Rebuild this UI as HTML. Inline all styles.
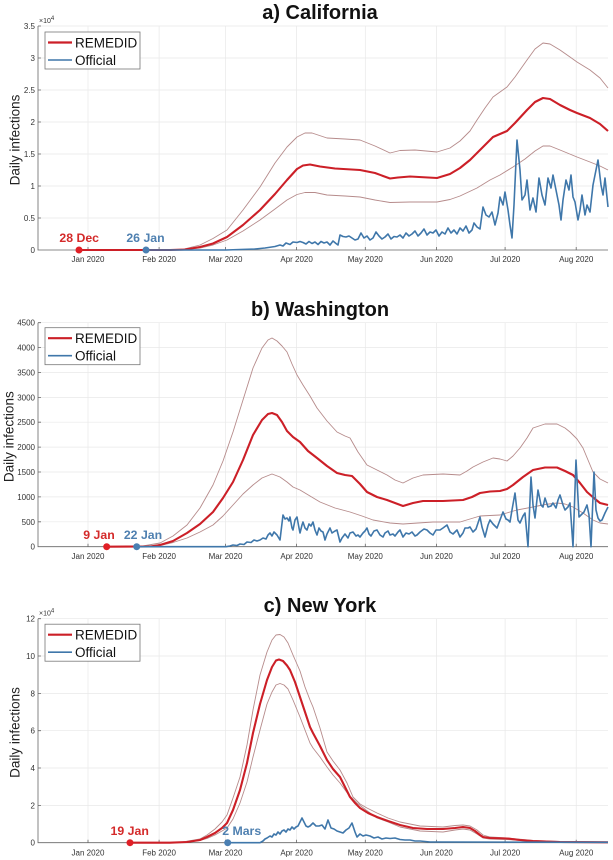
<!DOCTYPE html>
<html><head><meta charset="utf-8"><style>
html,body{margin:0;padding:0;background:#fff;}
svg{display:block;font-family:"Liberation Sans",Arial,sans-serif;}
.grid line{stroke:#e8e8e8;stroke-width:0.7}
.ax{stroke:#666;stroke-width:0.8;fill:none}
.tk{font-size:8px;fill:#333}
.band{fill:none;stroke:#b68b8b;stroke-width:0.9;stroke-linejoin:round}
.cen{fill:none;stroke:#cc1f27;stroke-width:2.1;stroke-linejoin:round}
.off{fill:none;stroke:#3f77aa;stroke-width:1.6;stroke-linejoin:round}
.title{font-size:20px;font-weight:bold;fill:#111}
.yl{font-size:13.5px;fill:#222}
.leg{font-size:13.5px;fill:#111}
.ann{font-size:12.3px;font-weight:bold}
</style></head><body>
<svg width="613" height="860" viewBox="0 0 613 860" xmlns="http://www.w3.org/2000/svg">

<!-- ================= Chart a ================= -->
<text class="title" x="320" y="19" text-anchor="middle">a) California</text>
<g class="grid">
<line x1="88" y1="26" x2="88" y2="250"/><line x1="159.1" y1="26" x2="159.1" y2="250"/><line x1="225.5" y1="26" x2="225.5" y2="250"/><line x1="296.6" y1="26" x2="296.6" y2="250"/><line x1="365.3" y1="26" x2="365.3" y2="250"/><line x1="436.4" y1="26" x2="436.4" y2="250"/><line x1="505.1" y1="26" x2="505.1" y2="250"/><line x1="576.2" y1="26" x2="576.2" y2="250"/>
<line x1="38" y1="26" x2="608" y2="26"/><line x1="38" y1="58" x2="608" y2="58"/><line x1="38" y1="90" x2="608" y2="90"/><line x1="38" y1="122" x2="608" y2="122"/><line x1="38" y1="154" x2="608" y2="154"/><line x1="38" y1="186" x2="608" y2="186"/><line x1="38" y1="218" x2="608" y2="218"/>
</g>
<path class="ax" d="M38 26V250H608"/>
<path class="ax" d="M88 250v-3M159.1 250v-3M225.5 250v-3M296.6 250v-3M365.3 250v-3M436.4 250v-3M505.1 250v-3M576.2 250v-3M38 26h3M38 58h3M38 90h3M38 122h3M38 154h3M38 186h3M38 218h3"/>
<g class="tk" text-anchor="end">
<text x="35" y="253">0</text><text x="35" y="221">0.5</text><text x="35" y="189">1</text><text x="35" y="157">1.5</text><text x="35" y="125">2</text><text x="35" y="93">2.5</text><text x="35" y="61">3</text><text x="35" y="29">3.5</text>
</g>
<text class="tk" x="39" y="23" style="font-size:7px">×10<tspan dy="-3" style="font-size:6px">4</tspan></text>
<g class="tk" text-anchor="middle">
<text x="88" y="262">Jan 2020</text><text x="159.1" y="262">Feb 2020</text><text x="225.5" y="262">Mar 2020</text><text x="296.6" y="262">Apr 2020</text><text x="365.3" y="262">May 2020</text><text x="436.4" y="262">Jun 2020</text><text x="505.1" y="262">Jul 2020</text><text x="576.2" y="262">Aug 2020</text>
</g>
<text class="yl" transform="translate(19.5,140) rotate(-90)" text-anchor="middle">Daily infections</text>

<polyline class="band" points="180,250 200,245 213,238.5 227,230 243,210 260,187 275,163 287,147 297,137 305,133 312,133 327,138 345,139 360,140 375,146 390,153 400,150.5 415,150 437,152 450,148 460,141 470,131 477,120 485,108 493,97 500,92 507,87 515,77 527,60 535,49 543,43 550,44 560,50 570,57 577,62 590,70 600,78 608,88"/>
<polyline class="band" points="180,250 200,248 213,245 227,240 243,231 260,220 275,209 287,200 297,194.5 305,192.5 315,192.5 327,195 345,196 360,197 375,200 390,202.5 410,202 437,202 450,199.5 460,196 477,188 490,180 500,175 513,167 525,159 535,151 543,146 550,146 560,150 577,157 590,162 600,166 608,170"/>
<polyline class="cen" points="79,250 170,250 185,249.5 200,247 213,243.5 227,237 243,225 260,210 275,194 287,180 297,169 303,165.5 310,164.5 320,166.5 335,168.5 360,170 375,173 390,178.5 398,177.5 410,176.5 437,178 450,174 460,168 470,160 477,153 485,145 493,137 500,134 507,131 515,123 527,110 535,102 543,98 550,99 560,105 570,110 577,113 590,118 600,124 608,131"/>
<polyline class="off" points="146,250 226,250 240,249.5 255,249 265,248 275,246.5 280,245 283,246 286,243 290,244.5 293,242 297,242.5 300,241.5 303,242.5 306,244 309,241.5 312,243.5 315,242 318,244.5 321,241.5 324,243 327,242 330,245 333,241 336,243.5 338,245 340,235 343,236.5 346,237 349,236 352,238 355,240 358,239 361,233 364,238 367,236 370,240 373,238 376,232 379,236 382,239 385,237 388,234 391,239 394,236.5 397,237 400,235 403,238 406,233 409,236 412,234 415,231 418,236 421,233 424,229 427,235 430,232 433,233 436,230 439,236 442,232 445,234 448,228 451,233 454,230 457,234 460,228 463,231 466,226 469,233 472,230 474,223 477,227 480,229 483,207 486,215 489,217 492,212 495,225 498,213 500,197 503,205 505,192 508,210 510,225 512,238 514,205 517,140 520,170 522,200 525,195 527,180 530,210 533,198 536,212 539,178 542,195 545,205 548,178 551,188 553,175 556,190 559,205 561,220 563,200 566,180 569,190 571,175 573,197 575,202 578,220 580,210 582,195 585,215 587,205 590,212 593,185 596,170 598,160 601,185 603,195 605,178 608,207"/>
<circle cx="79" cy="250" r="3.5" fill="#e01f26"/>
<circle cx="146" cy="250" r="3.5" fill="#4a7fb2"/>
<text class="ann" x="79.2" y="242" text-anchor="middle" fill="#d42a2a">28 Dec</text>
<text class="ann" x="145.5" y="242" text-anchor="middle" fill="#4f80b0">26 Jan</text>
<rect x="45" y="32" width="95" height="37" fill="#fff" stroke="#777" stroke-width="0.8"/>
<line x1="48" y1="42.5" x2="72" y2="42.5" stroke="#cc1f27" stroke-width="2.2"/>
<line x1="48" y1="60" x2="72" y2="60" stroke="#3f77aa" stroke-width="1.6"/>
<text class="leg" x="75" y="47.3">REMEDID</text>
<text class="leg" x="75" y="65">Official</text>

<!-- ================= Chart b ================= -->
<text class="title" x="320" y="316" text-anchor="middle">b) Washington</text>
<g class="grid">
<line x1="88" y1="322.7" x2="88" y2="546.7"/><line x1="159.1" y1="322.7" x2="159.1" y2="546.7"/><line x1="225.5" y1="322.7" x2="225.5" y2="546.7"/><line x1="296.6" y1="322.7" x2="296.6" y2="546.7"/><line x1="365.3" y1="322.7" x2="365.3" y2="546.7"/><line x1="436.4" y1="322.7" x2="436.4" y2="546.7"/><line x1="505.1" y1="322.7" x2="505.1" y2="546.7"/><line x1="576.2" y1="322.7" x2="576.2" y2="546.7"/>
<line x1="38" y1="322.7" x2="608" y2="322.7"/><line x1="38" y1="347.6" x2="608" y2="347.6"/><line x1="38" y1="372.5" x2="608" y2="372.5"/><line x1="38" y1="397.4" x2="608" y2="397.4"/><line x1="38" y1="422.2" x2="608" y2="422.2"/><line x1="38" y1="447.1" x2="608" y2="447.1"/><line x1="38" y1="472" x2="608" y2="472"/><line x1="38" y1="496.9" x2="608" y2="496.9"/><line x1="38" y1="521.8" x2="608" y2="521.8"/>
</g>
<path class="ax" d="M38 322.7V546.7H608"/>
<path class="ax" d="M88 546.7v-3M159.1 546.7v-3M225.5 546.7v-3M296.6 546.7v-3M365.3 546.7v-3M436.4 546.7v-3M505.1 546.7v-3M576.2 546.7v-3M38 322.7h3M38 347.6h3M38 372.5h3M38 397.4h3M38 422.2h3M38 447.1h3M38 472h3M38 496.9h3M38 521.8h3"/>
<g class="tk" text-anchor="end">
<text x="35" y="549.7">0</text><text x="35" y="524.8">500</text><text x="35" y="499.9">1000</text><text x="35" y="475">1500</text><text x="35" y="450.1">2000</text><text x="35" y="425.2">2500</text><text x="35" y="400.4">3000</text><text x="35" y="375.5">3500</text><text x="35" y="350.6">4000</text><text x="35" y="325.7">4500</text>
</g>
<g class="tk" text-anchor="middle">
<text x="88" y="559">Jan 2020</text><text x="159.1" y="559">Feb 2020</text><text x="225.5" y="559">Mar 2020</text><text x="296.6" y="559">Apr 2020</text><text x="365.3" y="559">May 2020</text><text x="436.4" y="559">Jun 2020</text><text x="505.1" y="559">Jul 2020</text><text x="576.2" y="559">Aug 2020</text>
</g>
<text class="yl" transform="translate(13.5,436.7) rotate(-90)" text-anchor="middle">Daily infections</text>

<polyline class="band" points="140,546.5 160,543 173,536 187,525 200,508 213,485 223,461 233,432 243,400 253,368 262,348 268,340 272,338 277,341 282,346 287,352 292,364 297,375 303,385 310,396 317,408 327,421 337,432 345,436 350,438 358,452 367,465 377,470 387,475 395,480 403,483 413,478 423,475 443,474 460,475 467,471 473,467 483,462 493,458 500,459 507,461 513,456 520,448 527,438 533,428 545,424 557,424 565,428 570,432 577,439 583,448 588,460 593,472 600,479 608,483"/>
<polyline class="band" points="150,546.5 160,545.5 173,542.5 187,538 200,532 213,525 223,516 233,505 243,494 253,485 262,478 272,474 280,477 287,482 293,487 300,490 310,496 320,502 335,508 350,512 362,516 373,520 390,523 403,524 418,523 433,522 460,522 470,519 480,516 490,515.5 500,515 510,512 517,510 533,507 545,504.5 557,503 565,504 573,507 583,513 593,520 600,523 608,524"/>
<polyline class="cen" points="106.7,546.7 150,546.5 160,545 173,541 187,533 200,524 213,512 223,498 233,482 243,460 253,435 262,420 268,414 272,413 277,415 282,422 287,431 293,437 300,442 308,451 317,458 327,466 337,473 345,475 352,476 360,484 367,492 377,497 387,500 395,503 403,506 413,503 423,501 443,501 463,500 472,497 480,493 490,491.5 500,491 507,489 513,485 523,477 533,470 545,467.5 557,467.5 565,471 573,475 580,483 587,492 595,499 600,503 608,505"/>
<polyline class="off" points="136.7,546.7 226,546.7 230,546 233,545 237,545.5 240,544 244,544.5 247,542 251,542.5 254,540 257,541 260,540 263,538 266,539 268,535 270,533 272,536 274,532 277,535 280,540 283,515 285,519 287,518 289,521 290,517 292,528 293,530 295,520 297,517 299,528 300,533 302,525 303,522 305,528 307,530 309,524 311,526 313,522 315,530 317,535 319,528 321,531 323,532 325,540 327,534 330,528 332,533 335,531 337,530 340,542 342,538 345,534 348,538 350,533 353,532 356,536 358,535 360,537 363,533 365,531 367,528 369,534 371,536 374,531 377,530 380,535 383,537 385,533 388,531 390,535 393,534 395,536 398,532 400,530 403,537 406,533 409,534 412,532 415,536 417,535 420,532 424,529 427,530 430,533 433,535 436,530 440,530 443,528 447,525 450,532 453,534 457,530 460,537 463,533 465,528 468,528 470,527 473,532 476,529 480,517 482,527 485,537 488,525 490,520 493,524 495,526 497,528 500,520 503,512 506,519 508,520 510,522 512,510 515,493 518,520 520,523 523,516 525,513 528,546.7 531,477 533,505 535,518 538,490 541,505 543,507 545,498 548,507 551,506 553,503 556,508 558,500 560,495 563,505 565,510 568,507 570,503 573,546.7 576,460 579,517 581,515 584,512 587,505 589,515 591,546.7 594,472 596,510 598,518 600,521 602,520 605,513 608,507"/>
<circle cx="106.7" cy="546.7" r="3.5" fill="#e01f26"/>
<circle cx="136.7" cy="546.7" r="3.5" fill="#4a7fb2"/>
<text class="ann" x="99" y="539" text-anchor="middle" fill="#d42a2a">9 Jan</text>
<text class="ann" x="143" y="539" text-anchor="middle" fill="#4f80b0">22 Jan</text>
<rect x="45" y="327.7" width="95" height="37" fill="#fff" stroke="#777" stroke-width="0.8"/>
<line x1="48" y1="338.2" x2="72" y2="338.2" stroke="#cc1f27" stroke-width="2.2"/>
<line x1="48" y1="355.7" x2="72" y2="355.7" stroke="#3f77aa" stroke-width="1.6"/>
<text class="leg" x="75" y="343">REMEDID</text>
<text class="leg" x="75" y="360.7">Official</text>

<!-- ================= Chart c ================= -->
<text class="title" x="320" y="612" text-anchor="middle">c) New York</text>
<g class="grid">
<line x1="88" y1="618.7" x2="88" y2="842.7"/><line x1="159.1" y1="618.7" x2="159.1" y2="842.7"/><line x1="225.5" y1="618.7" x2="225.5" y2="842.7"/><line x1="296.6" y1="618.7" x2="296.6" y2="842.7"/><line x1="365.3" y1="618.7" x2="365.3" y2="842.7"/><line x1="436.4" y1="618.7" x2="436.4" y2="842.7"/><line x1="505.1" y1="618.7" x2="505.1" y2="842.7"/><line x1="576.2" y1="618.7" x2="576.2" y2="842.7"/>
<line x1="38" y1="618.7" x2="608" y2="618.7"/><line x1="38" y1="656" x2="608" y2="656"/><line x1="38" y1="693.4" x2="608" y2="693.4"/><line x1="38" y1="730.7" x2="608" y2="730.7"/><line x1="38" y1="768" x2="608" y2="768"/><line x1="38" y1="805.4" x2="608" y2="805.4"/>
</g>
<path class="ax" d="M38 618.7V842.7H608"/>
<path class="ax" d="M88 842.7v-3M159.1 842.7v-3M225.5 842.7v-3M296.6 842.7v-3M365.3 842.7v-3M436.4 842.7v-3M505.1 842.7v-3M576.2 842.7v-3M38 618.7h3M38 656h3M38 693.4h3M38 730.7h3M38 768h3M38 805.4h3"/>
<g class="tk" text-anchor="end">
<text x="35" y="845.7">0</text><text x="35" y="808.4">2</text><text x="35" y="771">4</text><text x="35" y="733.7">6</text><text x="35" y="696.4">8</text><text x="35" y="659">10</text><text x="35" y="621.7">12</text>
</g>
<text class="tk" x="39" y="615.5" style="font-size:7px">×10<tspan dy="-3" style="font-size:6px">4</tspan></text>
<g class="tk" text-anchor="middle">
<text x="88" y="855.3">Jan 2020</text><text x="159.1" y="855.3">Feb 2020</text><text x="225.5" y="855.3">Mar 2020</text><text x="296.6" y="855.3">Apr 2020</text><text x="365.3" y="855.3">May 2020</text><text x="436.4" y="855.3">Jun 2020</text><text x="505.1" y="855.3">Jul 2020</text><text x="576.2" y="855.3">Aug 2020</text>
</g>
<text class="yl" transform="translate(19.5,732.5) rotate(-90)" text-anchor="middle">Daily infections</text>

<polyline class="band" points="180,842.5 200,839 207,835 215,829 222,822 227,815 233,798 240,777 247,745 253,710 260,675 267,652 272,640 276,635 280,634.5 284,637 288,643 293,655 300,671 305,687 310,700 313,707 320,728 327,752 333,761 340,770 347,783 353,797 360,804 367,808 377,813 388,818 400,822 420,826 443,827 455,825.5 463,825 470,826 477,830 483,835 490,837 507,838 533,840.5 560,841.5 608,841.8"/>
<polyline class="band" points="180,842.7 200,840.5 207,838.5 215,835 222,831 227,828 233,819 240,803 247,782 253,757 260,730 267,704 272,692 276,685 280,683.5 284,685 288,689 293,700 300,717 305,730 310,743 313,748 320,757 327,767 333,775 340,783 348,794 357,803 366,810 377,818 388,822 400,827 420,831 443,832 455,830 463,829 470,830 477,834 483,838 490,839 507,839.5 533,841.5 560,842.2 608,842.5"/>
<polyline class="cen" points="130,842.7 170,842.7 187,842 200,840 207,837 215,833 222,828 227,823 233,810 240,790 247,763 253,733 260,704 267,680 272,667 276,660.5 279,659.5 283,661 287,665.5 290,670 295,682 300,697 305,712 310,727 313,733 320,746 327,760 333,769 340,777 345,787 350,797 355,803 360,808 368,813 377,817 388,821 400,825 413,828 427,829 443,829 455,828 463,827 470,828 475,831 480,835 483,837 490,838 507,838.5 520,840 533,841 560,842 608,842.3"/>
<polyline class="off" points="227.7,842.7 260,842.7 263,841 265,839 267,838 270,836 272,837 274,834 276,835 278,832 280,834 282,831 284,830 286,832 288,829 290,830 292,827 294,829 296,827 298,826 300,822 302,818 304,822 306,826 308,827 310,826 313,823 316,826 319,826 322,825 325,829 328,820 331,828 334,829 337,831 340,832 343,833 346,830 349,828 352,823 355,832 357,837 360,834 363,836 366,835 370,836 374,838 378,837 382,839 386,838 390,838.5 395,838 400,839.5 405,840 410,840 415,841 420,841 430,842 440,842 608,842.3"/>
<circle cx="130" cy="842.7" r="3.5" fill="#e01f26"/>
<circle cx="227.7" cy="842.7" r="3.5" fill="#4a7fb2"/>
<text class="ann" x="129.7" y="835" text-anchor="middle" fill="#d42a2a">19 Jan</text>
<text class="ann" x="241.7" y="835" text-anchor="middle" fill="#4f80b0">2 Mars</text>
<rect x="45" y="624.2" width="95" height="37" fill="#fff" stroke="#777" stroke-width="0.8"/>
<line x1="48" y1="634.7" x2="72" y2="634.7" stroke="#cc1f27" stroke-width="2.2"/>
<line x1="48" y1="652.2" x2="72" y2="652.2" stroke="#3f77aa" stroke-width="1.6"/>
<text class="leg" x="75" y="639.5">REMEDID</text>
<text class="leg" x="75" y="657.2">Official</text>
</svg>
</body></html>
